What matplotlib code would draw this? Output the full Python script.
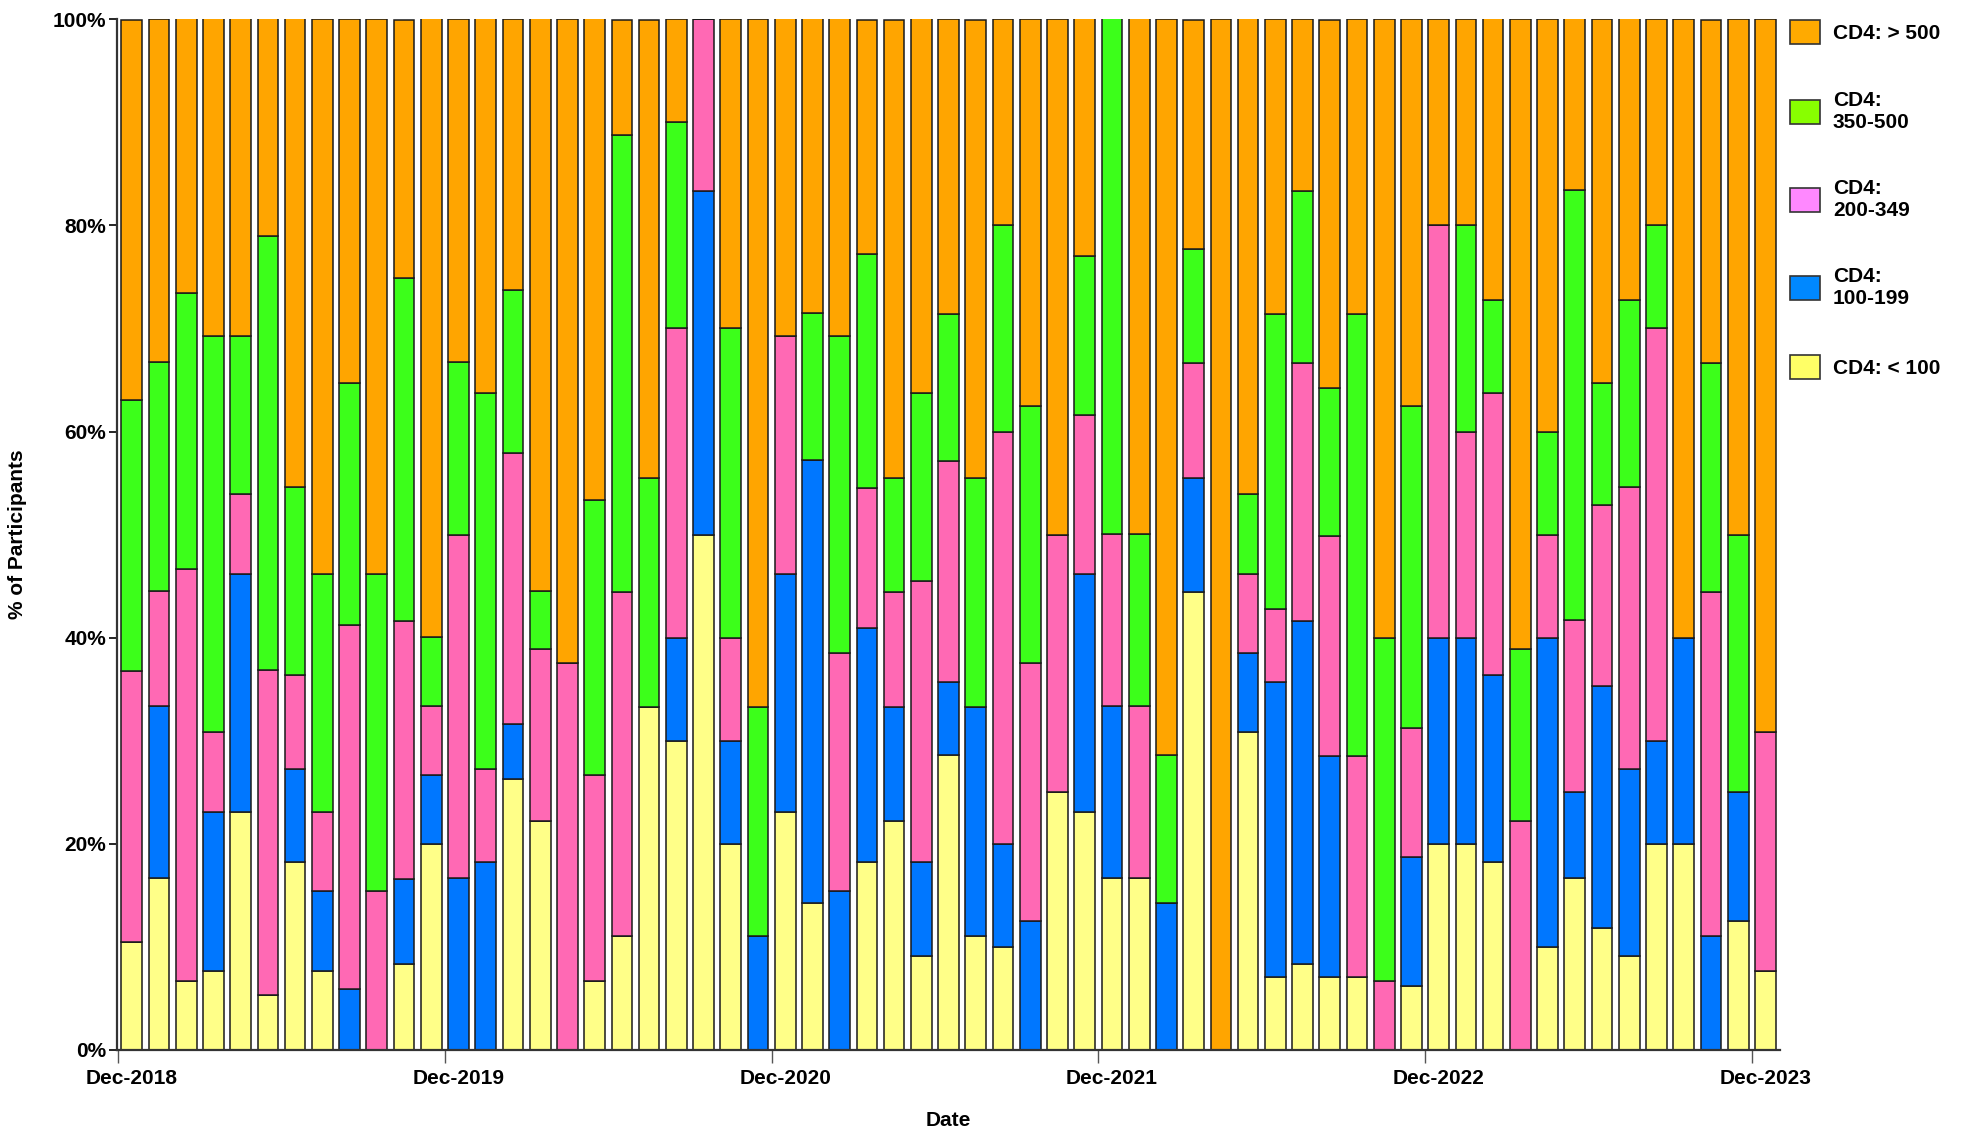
"""Stacked monthly CD4 category shares, Dec-2018 .. Dec-2023 (61 months)."""

import numpy as np
import matplotlib
matplotlib.use("Agg")
import matplotlib.pyplot as plt
from matplotlib.patches import Patch

plt.rcParams["font.family"] = ["Liberation Sans", "DejaVu Sans"]
plt.rcParams["font.weight"] = "bold"

# one value per month, Dec-2018 first; percent of participants
cd4_lt100 = [10.5, 16.7, 6.7, 7.7, 23.1, 5.3, 18.2, 7.7, 0, 0,
             8.3, 20.0, 0, 0, 26.3, 22.2, 0, 6.7, 11.1, 33.3,
             30.0, 50.0, 20.0, 0, 23.1, 14.3, 0, 18.2, 22.2, 9.1,
             28.6, 11.1, 10.0, 0, 25.0, 23.1, 16.7, 16.7, 0, 44.4,
             0, 30.8, 7.1, 8.3, 7.1, 7.1, 0, 6.2, 20.0, 20.0,
             18.2, 0, 10.0, 16.7, 11.8, 9.1, 20.0, 20.0, 0, 12.5,
             7.7]
cd4_100_199 = [0, 16.7, 0, 15.4, 23.1, 0, 9.1, 7.7, 5.9, 0,
               8.3, 6.7, 16.7, 18.2, 5.3, 0, 0, 0, 0, 0,
               10.0, 33.3, 10.0, 11.1, 23.1, 42.9, 15.4, 22.7, 11.1, 9.1,
               7.1, 22.2, 10.0, 12.5, 0, 23.1, 16.7, 0, 14.3, 11.1,
               0, 7.7, 28.6, 33.3, 21.4, 0, 0, 12.5, 20.0, 20.0,
               18.2, 0, 30.0, 8.3, 23.5, 18.2, 10.0, 20.0, 11.1, 12.5,
               0]
cd4_200_349 = [26.3, 11.1, 40.0, 7.7, 7.7, 31.6, 9.1, 7.7, 35.3, 15.4,
               25.0, 6.7, 33.3, 9.1, 26.3, 16.7, 37.5, 20.0, 33.3, 0,
               30.0, 16.7, 10.0, 0, 23.1, 0, 23.1, 13.6, 11.1, 27.3,
               21.4, 0, 40.0, 25.0, 25.0, 15.4, 16.7, 16.7, 0, 11.1,
               0, 7.7, 7.1, 25.0, 21.4, 21.4, 6.7, 12.5, 40.0, 20.0,
               27.3, 22.2, 10.0, 16.7, 17.6, 27.3, 40.0, 0, 33.3, 0,
               23.1]
cd4_350_500 = [26.3, 22.2, 26.7, 38.5, 15.4, 42.1, 18.2, 23.1, 23.5, 30.8,
               33.3, 6.7, 16.7, 36.4, 15.8, 5.6, 0, 26.7, 44.4, 22.2,
               20.0, 0, 30.0, 22.2, 0, 14.3, 30.8, 22.7, 11.1, 18.2,
               14.3, 22.2, 20.0, 25.0, 0, 15.4, 50.0, 16.7, 14.3, 11.1,
               0, 7.7, 28.6, 16.7, 14.3, 42.9, 33.3, 31.3, 0, 20.0,
               9.1, 16.7, 10.0, 41.7, 11.8, 18.2, 10.0, 0, 22.2, 25.0,
               0]
cd4_gt500 = [36.8, 33.3, 26.7, 30.8, 30.8, 21.1, 45.5, 53.8, 35.3, 53.8,
             25.0, 60.0, 33.3, 36.4, 26.3, 55.6, 62.5, 46.7, 11.1, 44.4,
             10.0, 0, 30.0, 66.7, 30.8, 28.6, 30.8, 22.7, 44.4, 36.4,
             28.6, 44.4, 20.0, 37.5, 50.0, 23.1, 0, 50.0, 71.4, 22.2,
             100.0, 46.2, 28.6, 16.7, 35.7, 28.6, 60.0, 37.5, 20.0, 20.0,
             27.3, 61.1, 40.0, 16.7, 35.3, 27.3, 20.0, 60.0, 33.3, 50.0,
             69.2]

series = ["CD4: < 100", "CD4:\n100-199", "CD4:\n200-349", "CD4:\n350-500", "CD4: > 500"]
bar_colors = ["#FFFF88", "#0077FF", "#FF69B4", "#3CFF1A", "#FFA500"]
legend_colors = ["#FFFF66", "#0088FF", "#FF88FF", "#88FF00", "#FFAA00"]

date_labels = ["Dec-2018", "Dec-2019", "Dec-2020", "Dec-2021", "Dec-2022", "Dec-2023"]
date_index = [0, 12, 24, 36, 48, 60]


def main() -> None:
    data = [cd4_lt100, cd4_100_199, cd4_200_349, cd4_350_500, cd4_gt500]
    x = np.arange(len(cd4_lt100))

    fig = plt.figure(figsize=(19.67, 11.29), dpi=100)
    ax = fig.add_axes([0.0595, 0.070, 0.8455, 0.913])

    bottom = np.zeros(len(x))
    for vals, col in zip(data, bar_colors):
        vals = np.asarray(vals, dtype=float)
        ax.bar(x, vals, bottom=bottom, width=0.76, color=col,
               edgecolor="#1a1a1a", linewidth=1.1)
        bottom += vals

    ax.set_xlim(-0.54, len(x) - 0.46)
    ax.set_ylim(0, 100)
    ax.set_yticks(range(0, 101, 20))
    ax.set_yticklabels([f"{v}%" for v in range(0, 101, 20)])

    # labels sit on the month, tick marks on the month's left boundary
    ax.set_xticks(date_index)
    ax.set_xticklabels(date_labels)
    ax.tick_params(axis="x", which="major", length=0, pad=14)
    ax.set_xticks([i - 0.5 for i in date_index], minor=True)
    ax.tick_params(axis="x", which="minor", length=9, width=1, color="#555555")
    ax.tick_params(axis="y", length=6, width=1.2, pad=2)
    ax.tick_params(labelsize=15)

    for s in ("top", "right"):
        ax.spines[s].set_visible(False)
    for s in ("left", "bottom"):
        ax.spines[s].set_linewidth(1.6)
        ax.spines[s].set_color("#333333")

    ax.set_xlabel("Date", fontsize=15, fontweight="bold", labelpad=16)
    ax.set_ylabel("% of Participants", fontsize=15, fontweight="bold", labelpad=18)

    handles = [Patch(facecolor=c, edgecolor="#333333", linewidth=1.2)
               for c in legend_colors[::-1]]
    ax.legend(handles, series[::-1], loc="upper left", bbox_to_anchor=(1.006, 0.999),
              frameon=False, labelspacing=2.25, handlelength=1.45,
              handleheight=1.4, handletextpad=0.6, borderpad=0, borderaxespad=0,
              prop={"weight": "bold", "size": 15})

    fig.savefig("out.png", dpi=100)


if __name__ == "__main__":
    main()
